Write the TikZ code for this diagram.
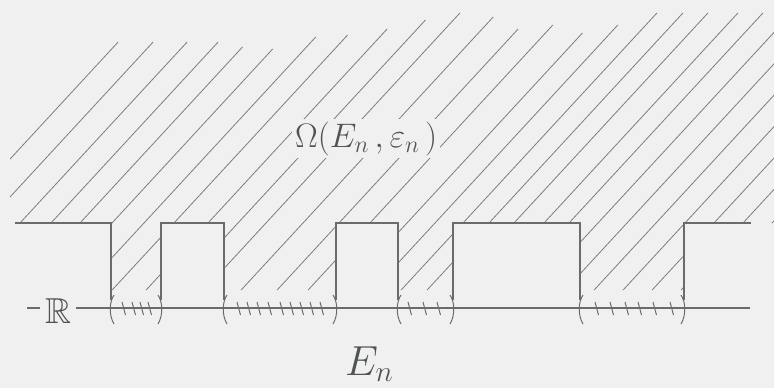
\RequirePackage{fix-cm}
\documentclass[tikz,border=0pt]{standalone}
\usepackage{amssymb}
\definecolor{bg}{RGB}{240,240,240}
\definecolor{ink}{RGB}{105,108,105}
\definecolor{hatchc}{RGB}{125,125,125}
\definecolor{txt}{RGB}{80,85,80}
\tikzset{
  edgeline/.style={draw=ink, line width=1.1pt},
  hatchline/.style={draw=hatchc, line width=0.8pt},
  tick/.style={draw=ink, line width=1pt},
  paren/.style={draw=ink, line width=1pt},
  lbl/.style={text=txt, inner sep=2pt},
}
\begin{document}
\begin{tikzpicture}[x=1pt,y=-1pt]
\fill[bg] (0,0) rectangle (774,388);
\useasboundingbox (0,0) rectangle (774,388);
% hatching of Omega
\begin{scope}
\clip (10,0) -- (774,0) -- (774,223) -- (684,223) -- (684,290) -- (580,290) -- (580,223)
  -- (453,223) -- (453,290) -- (398,290) -- (398,223) -- (336,223) -- (336,290)
  -- (224,290) -- (224,223) -- (161,223) -- (161,290) -- (111,290) -- (111,223)
  -- (10,223) -- cycle;
\foreach \x/\t in {-49/42,-14/42,20/42,51/42,80/47,112/49,144/37,174/35,208/29,238/20,
  266/13,303/17,339/29,370/25,407/33,435/25,463/13,489/13,514/13,544/13,569/13,598/13,
  627/13,656/13,685/13,714/13,743/13,772/13,801/13}
  \draw[hatchline] ({\x+(223-\t)/1.083},\t) -- ({\x-80/1.083},303);
\end{scope}
% boundary
\draw[edgeline] (15,223) -- (111,223) -- (111,300);
\draw[edgeline] (161,300) -- (161,223) -- (224,223) -- (224,300);
\draw[edgeline] (336,300) -- (336,223) -- (398,223) -- (398,300);
\draw[edgeline] (453,300) -- (453,223) -- (580,223) -- (580,300);
\draw[edgeline] (684,300) -- (684,223) -- (751,223);
% real line
\draw[edgeline] (27,308) -- (750,308);
\node[lbl, fill=bg, inner xsep=5pt, anchor=base west, font=\fontsize{24.88}{30}\selectfont] (R) at (40,323) {\scalebox{1.45}{$\mathbb{R}$}};
% parentheses
\foreach \a/\b in {111/161,224/336,398/453,580/684}{
  \draw[paren] (\a+3,295) .. controls (\a-2,302) and (\a-2,316) .. (\a+3,324);
  \draw[paren] (\b-3,295) .. controls (\b+2,302) and (\b+2,316) .. (\b-3,324);
}
% ticks
\foreach \x in {122,132,140,148, 237,247,257,268,280,290,300,310,320, 408,423,437, 595,610,625,638,653,670}
  \draw[tick] (\x,302) -- (\x+3.5,315);
% labels
\node[lbl, fill=bg, inner sep=3pt, anchor=base west, font=\fontsize{34}{40}\selectfont] (omega) at (292,147) {$\Omega(E_n\,,\varepsilon_n\,)$};
\node[lbl, anchor=base west, font=\fontsize{42}{48}\selectfont] (En) at (343,375) {$E_n$};
\end{tikzpicture}
\end{document}
